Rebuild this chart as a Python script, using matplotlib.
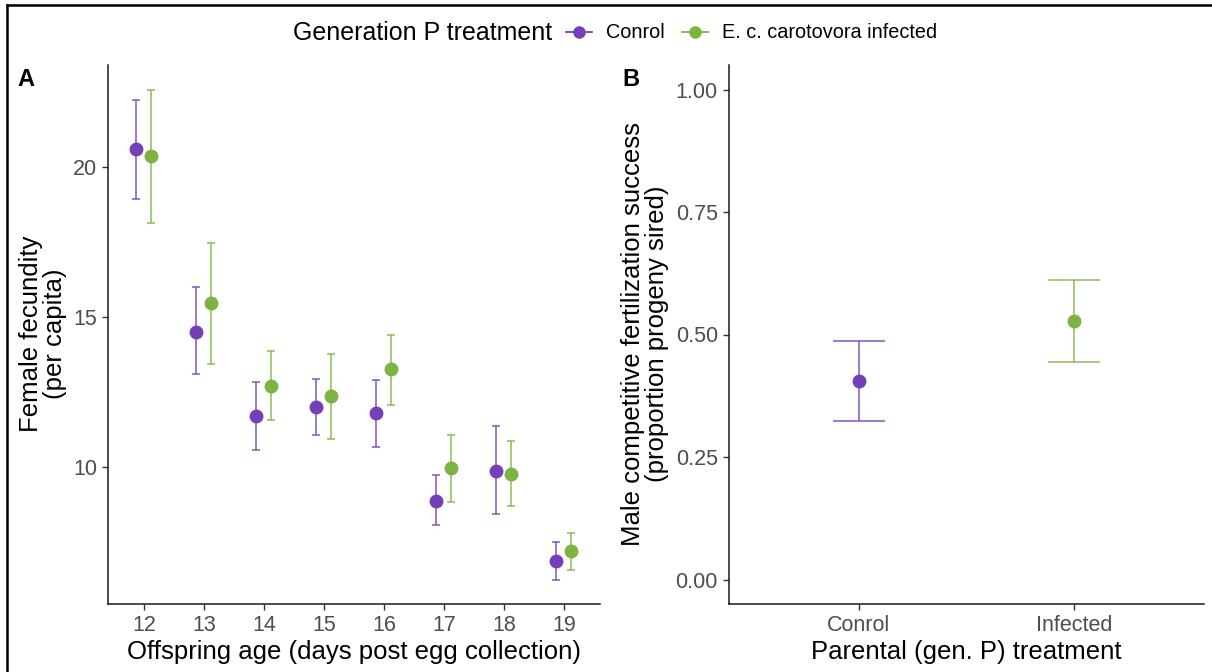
import matplotlib
matplotlib.use("Agg")
import matplotlib.pyplot as plt
import numpy as np
from matplotlib.lines import Line2D

plt.rcParams["font.family"] = ["Liberation Sans", "DejaVu Sans"]

# Panel A: fecundity by offspring age
ages = [12, 13, 14, 15, 16, 17, 18, 19]
ctrl_mean = [20.62, 14.51, 11.71, 12.00, 11.79, 8.87, 9.85, 6.86]
ctrl_lo = [18.96, 13.09, 10.58, 11.07, 10.67, 8.07, 8.43, 6.24]
ctrl_hi = [22.24, 16.00, 12.82, 12.95, 12.91, 9.73, 11.35, 7.49]
inf_mean = [20.39, 15.46, 12.69, 12.37, 13.27, 9.95, 9.77, 7.18]
inf_lo = [18.15, 13.44, 11.56, 10.94, 12.06, 8.83, 8.71, 6.56]
inf_hi = [22.60, 17.48, 13.86, 13.76, 14.42, 11.07, 10.86, 7.80]

# Panel B: competitive fertilization success
treatments = ["Conrol", "Infected"]
sperm_mean = [0.405, 0.527]
sperm_lo = [0.3235, 0.444]
sperm_hi = [0.487, 0.611]

legend_labels = ["Conrol", "E. c. carotovora infected"]
PURPLE = "#7440b8"
GREEN = "#7db343"
TICK_GREY = "#4d4d4d"

W, H = 1212, 672
fig = plt.figure(figsize=(W / 100, H / 100), dpi=100)


def px_axes(left, right, top, bottom):
    return fig.add_axes([left / W, 1 - bottom / H, (right - left) / W, (bottom - top) / H])


def classic(ax):
    for side in ("top", "right"):
        ax.spines[side].set_visible(False)
    for side in ("left", "bottom"):
        ax.spines[side].set_linewidth(1.1)
        ax.spines[side].set_color("#1a1a1a")
    ax.tick_params(length=4, width=1.0, color="#333333", labelsize=15.5,
                   labelcolor=TICK_GREY, pad=4)


def pointrange(ax, x, mean, lo, hi, color, cap, ms):
    mean = np.asarray(mean)
    err = np.vstack([mean - np.asarray(lo), np.asarray(hi) - mean])
    ax.errorbar(x, mean, yerr=err, fmt="none", ecolor=color, alpha=0.75,
                elinewidth=1.3, capsize=cap, capthick=1.3)
    ax.plot(x, mean, "o", color=color, ms=ms, mec=color, zorder=3)


# ---- panel A
axA = px_axes(108, 600, 65, 604)
classic(axA)
x = np.asarray(ages, dtype=float)
pointrange(axA, x - 0.125, ctrl_mean, ctrl_lo, ctrl_hi, PURPLE, 2.6, 9)
pointrange(axA, x + 0.125, inf_mean, inf_lo, inf_hi, GREEN, 2.6, 9)
ymin = min(ctrl_lo + inf_lo)
ymax = max(ctrl_hi + inf_hi)
pad = 0.05 * (ymax - ymin)
axA.set_ylim(ymin - pad, ymax + pad)
axA.set_xlim(11.4, 19.6)
axA.set_xticks(ages)
axA.set_yticks([10, 15, 20])

# ---- panel B
axB = px_axes(729, 1204, 65, 604)
classic(axB)
xb = np.arange(1, len(treatments) + 1)
for i, col in enumerate([PURPLE, GREEN]):
    pointrange(axB, [xb[i]], [sperm_mean[i]], [sperm_lo[i]], [sperm_hi[i]], col, 19, 9)
axB.set_xlim(0.4, 2.6)
axB.set_ylim(-0.05, 1.05)
axB.set_xticks(xb)
axB.set_xticklabels(treatments)
axB.set_yticks([0, 0.25, 0.5, 0.75, 1.0])
axB.set_yticklabels(["0.00", "0.25", "0.50", "0.75", "1.00"])

# axis titles
fig.text(354 / W, 1 - 652 / H, "Offspring age (days post egg collection)",
         ha="center", va="center", fontsize=18.5)
fig.text(966 / W, 1 - 652 / H, "Parental (gen. P) treatment",
         ha="center", va="center", fontsize=18.5)
fig.text(43 / W, 1 - 334 / H, "Female fecundity\n(per capita)", rotation=90,
         ha="center", va="center", fontsize=18.5, linespacing=1.05, multialignment="center")
fig.text(645 / W, 1 - 334 / H,
         "Male competitive fertilization success\n(proportion progeny sired)",
         rotation=90, ha="center", va="center", fontsize=18.5, linespacing=1.05,
         multialignment="center")

# panel tags
fig.text(26 / W, 1 - 79 / H, "A", ha="center", va="center", fontsize=17, fontweight="bold")
fig.text(631 / W, 1 - 79 / H, "B", ha="center", va="center", fontsize=17, fontweight="bold")

# legend across the top
fig.text(552 / W, 1 - 33 / H, "Generation P treatment", ha="right", va="center", fontsize=18)
handles = [Line2D([], [], color=c, marker="o", ms=8, lw=1.3) for c in (PURPLE, GREEN)]
fig.legend(handles, legend_labels, loc="center left", bbox_to_anchor=(566 / W, 1 - 33 / H),
           ncol=2, frameon=False, fontsize=14.3, handlelength=1.3, handletextpad=0.7,
           columnspacing=0.9, borderaxespad=0, borderpad=0)

# outer frame (left and top edges)
fig.add_artist(Line2D([7 / W, 7 / W], [0, 1 - 5 / H], color="black", lw=1.8,
                      transform=fig.transFigure))
fig.add_artist(Line2D([7 / W, 1], [1 - 5 / H, 1 - 5 / H], color="black", lw=1.8,
                      transform=fig.transFigure))

fig.savefig("out.png", dpi=100, facecolor="white")
